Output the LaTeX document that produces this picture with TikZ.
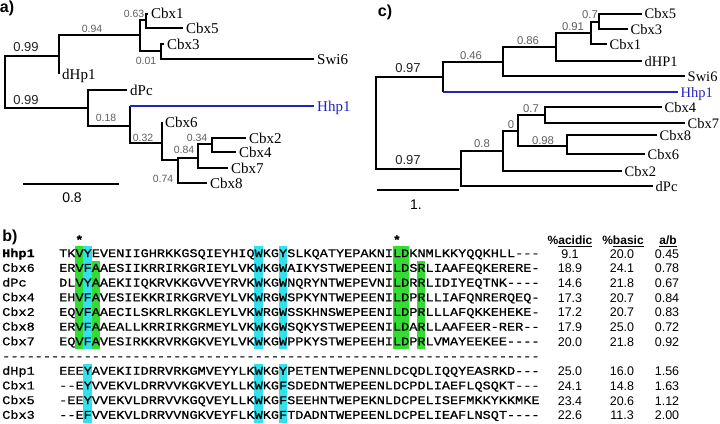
\documentclass[tikz,border=0pt]{standalone}
\usepackage{fontspec}
\setmainfont{Liberation Serif}
\newfontfamily\sansf{Liberation Sans}
\newfontfamily\monof[FakeStretch=1.15,FakeBold=0.8,Ligatures=TeXOff]{Liberation Mono}
\definecolor{hblue}{RGB}{35,35,190}
\definecolor{hgreen}{RGB}{50,220,50}
\definecolor{hcyan}{RGB}{50,225,235}
\definecolor{darkg}{RGB}{35,35,35}
\definecolor{greyg}{RGB}{95,95,95}
\begin{document}
\begin{tikzpicture}[x=1pt,y=-1pt,
  br/.style={line width=1.2pt,line join=miter},
  hbr/.style={line width=1.2pt,draw=hblue},
  leaf/.style={anchor=west,inner xsep=3pt,inner ysep=0pt,font=\fontsize{15}{15}\selectfont,text height=10pt,text depth=0pt},
  leafc/.style={leaf,font=\fontsize{14.5}{14.5}\selectfont,inner xsep=2.5pt},
  supb/.style={inner sep=0pt,font=\sansf\fontsize{13}{13}\selectfont,text=darkg},
  sups/.style={inner sep=0pt,font=\sansf\fontsize{10.5}{10.5}\selectfont,text=greyg},
  supc/.style={inner sep=0pt,font=\sansf\fontsize{11.3}{11.3}\selectfont,text=greyg},
  scl/.style={inner sep=0pt,font=\sansf\fontsize{14}{14}\selectfont},
  panel/.style={inner sep=0pt,font=\sansf\bfseries\fontsize{16}{16}\selectfont},
  seq/.style={anchor=base west,inner sep=0pt,font=\monof\fontsize{11.8}{11.8}\selectfont},
  star/.style={anchor=base,inner sep=0pt,font=\monof\bfseries\fontsize{11.8}{11.8}\selectfont},
  hdr/.style={anchor=base,inner sep=0pt,font=\sansf\bfseries\fontsize{12}{12}\selectfont},
  val/.style={anchor=base,inner sep=0pt,font=\sansf\fontsize{12.5}{12.5}\selectfont},
  hlg/.style={fill=hgreen},
  hlc/.style={fill=hcyan}]
\useasboundingbox (0,0) rectangle (720,423);

% ---------------- panel a ----------------
\node[panel] (pa) at (7,8) {a)};
\coordinate (ra) at (5,82);
\coordinate (a1) at (59,56);
\coordinate (a2) at (140,35);
\coordinate (a3) at (146,20);
\coordinate (a4) at (161,51);
\coordinate (b1) at (88,108);
\coordinate (b2) at (130,126);
\coordinate (b3) at (162,143);
\coordinate (b4) at (178,160);
\coordinate (b5) at (198,158);
\coordinate (b6) at (212,144);
\node[leaf] (aCbx1) at (148,14) {Cbx1};
\node[leaf] (aCbx5) at (183,28) {Cbx5};
\node[leaf] (aCbx3) at (164,44) {Cbx3};
\node[leaf] (aSwi6) at (314,59) {Swi6};
\node[leaf] (adHp1) at (59,74) {dHp1};
\node[leaf] (adPc) at (127,90) {dPc};
\node[leaf,text=hblue] (aHhp1) at (314,106) {Hhp1};
\node[leaf] (aCbx6) at (162,122) {Cbx6};
\node[leaf] (aCbx2) at (246,138) {Cbx2};
\node[leaf] (aCbx4) at (236,152) {Cbx4};
\node[leaf] (aCbx7) at (228,168) {Cbx7};
\node[leaf] (aCbx8) at (207,183) {Cbx8};
\draw[br] (ra) |- (a1);
\draw[br] (ra) |- (b1);
\draw[br] (a1) |- (a2);
\draw[br] (a1) |- (adHp1.west);
\draw[br] (a2) |- (a3);
\draw[br] (a2) |- (a4);
\draw[br] (a3) |- (aCbx1.west);
\draw[br] (a3) |- (aCbx5.west);
\draw[br] (a4) |- (aCbx3.west);
\draw[br] (a4) |- (aSwi6.west);
\draw[br] (b1) |- (adPc.west);
\draw[br] (b1) |- (b2);
\draw[br] (b2) |- (b3);
\draw[br] (b2) -- (b2 |- aHhp1.west);
\draw[hbr] (b2 |- aHhp1.west) -- (aHhp1.west);
\draw[br] (b3) |- (aCbx6.west);
\draw[br] (b3) |- (b4);
\draw[br] (b4) |- (b5);
\draw[br] (b4) |- (aCbx8.west);
\draw[br] (b5) |- (b6);
\draw[br] (b5) |- (aCbx7.west);
\draw[br] (b6) |- (aCbx2.west);
\draw[br] (b6) |- (aCbx4.west);
\node[supb] (sa1) at (26,47) {0.99};
\node[supb] (sa2) at (26,100) {0.99};
\node[sups] (sa3) at (92,29) {0.94};
\node[sups] (sa4) at (134,14) {0.63};
\node[sups] (sa5) at (146,61) {0.01};
\node[sups] (sa6) at (106,118) {0.18};
\node[sups] (sa7) at (143,138) {0.32};
\node[sups] (sa8) at (197,138) {0.34};
\node[sups] (sa9) at (184,150) {0.84};
\node[sups] (sa10) at (163,179) {0.74};
\coordinate (sba1) at (23,184);
\coordinate (sba2) at (119,184);
\draw[br] (sba1) -- (sba2);
\node[scl] (sbal) at (72,198) {0.8};

% ---------------- panel c ----------------
\node[panel] (pc) at (385,12) {c)};
\coordinate (c0) at (376,123);
\coordinate (c1) at (443,77);
\coordinate (c2) at (503,62);
\coordinate (c3) at (556,47);
\coordinate (c4) at (591,33);
\coordinate (c5) at (599,22);
\coordinate (c6) at (461,169);
\coordinate (c7) at (503,151);
\coordinate (c8) at (518,131);
\coordinate (c9) at (545,115);
\coordinate (c10) at (567,146);
\node[leafc] (cCbx5) at (642,14) {Cbx5};
\node[leafc] (cCbx3) at (628,29) {Cbx3};
\node[leafc] (cCbx1) at (607,44) {Cbx1};
\node[leafc] (cdHP1) at (642,61) {dHP1};
\node[leafc] (cSwi6) at (685,76) {Swi6};
\node[leafc,text=hblue] (cHhp1) at (678,92) {Hhp1};
\node[leafc] (cCbx4) at (662,107) {Cbx4};
\node[leafc] (cCbx7) at (685,123) {Cbx7};
\node[leafc] (cCbx8) at (657,135) {Cbx8};
\node[leafc] (cCbx6) at (645,154) {Cbx6};
\node[leafc] (cCbx2) at (622,171) {Cbx2};
\node[leafc] (cdPc) at (653,186) {dPc};
\draw[br] (c0) |- (c1);
\draw[br] (c0) |- (c6);
\draw[br] (c1) |- (c2);
\draw[br] (c1) -- (c1 |- cHhp1.west);
\draw[hbr] (c1 |- cHhp1.west) -- (cHhp1.west);
\draw[br] (c2) |- (c3);
\draw[br] (c2) |- (cSwi6.west);
\draw[br] (c3) |- (c4);
\draw[br] (c3) |- (cdHP1.west);
\draw[br] (c4) |- (c5);
\draw[br] (c4) |- (cCbx1.west);
\draw[br] (c5) |- (cCbx5.west);
\draw[br] (c5) |- (cCbx3.west);
\draw[br] (c6) |- (c7);
\draw[br] (c6) |- (cdPc.west);
\draw[br] (c7) |- (c8);
\draw[br] (c7) |- (cCbx2.west);
\draw[br] (c8) |- (c9);
\draw[br] (c8) |- (c10);
\draw[br] (c9) |- (cCbx4.west);
\draw[br] (c9) |- (cCbx7.west);
\draw[br] (c10) |- (cCbx8.west);
\draw[br] (c10) |- (cCbx6.west);
\node[supb] (sc1) at (408,68) {0.97};
\node[supb] (sc2) at (408,160) {0.97};
\node[supc] (sc3) at (471,56) {0.46};
\node[supc] (sc4) at (528,41) {0.86};
\node[supc] (sc5) at (573,27) {0.91};
\node[supc] (sc6) at (590,15) {0.7};
\node[supc] (sc7) at (482,144) {0.8};
\node[supc] (sc8) at (511,125) {0};
\node[supc] (sc9) at (531,109) {0.7};
\node[supc] (sc10) at (543,141) {0.98};
\coordinate (sbc1) at (377,190);
\coordinate (sbc2) at (459,190);
\draw[br] (sbc1) -- (sbc2);
\node[scl] (sbcl) at (416,205) {1.};

% ---------------- panel b ----------------
\node[panel] (pb) at (10,237) {b)};
% highlights, upper group
\fill[hlg] (75.29,246.15) rectangle (83.43,349.05);
\fill[hlc] (83.43,246.15) rectangle (91.57,349.05);
\fill[hlg] (91.57,260.85) rectangle (99.72,349.05);
\fill[hlc] (254.43,246.15) rectangle (262.58,349.05);
\fill[hlc] (278.86,246.15) rectangle (287.00,349.05);
\fill[hlg] (392.86,246.15) rectangle (409.15,349.05);
\fill[hlg] (417.29,260.85) rectangle (425.43,349.05);
% highlights, lower group
\fill[hlc] (83.43,363.75) rectangle (91.57,422.55);
\fill[hlc] (254.43,363.75) rectangle (262.58,422.55);
\fill[hlc] (278.86,363.75) rectangle (287.00,422.55);
% asterisks
\node[star] (st1) at (79.36,244) {*};
\node[star] (st2) at (396.9,244) {*};
% headers
\node[hdr] (h1) at (570,244.5) {\%\underline{acidic}};
\node[hdr] (h2) at (623,244.5) {\%\underline{basic}};
\node[hdr] (h3) at (668,244.5) {\underline{a/b}};
% rows
\foreach \i/\nm/\sq/\ac/\ba/\ab in {
 0/{\textbf{Hhp1}}/TKVYEVENIIGHRKKGSQIEYHIQWKGYSLKQATYEPAKNILDKNMLKKYQQKHLL---/9.1/20.0/0.45,
 1/Cbx6/ERVFAAESIIKRRIRKGRIEYLVKWKGWAIKYSTWEPEENILDSRLIAAFEQKERERE-/18.9/24.1/0.78,
 2/dPc/DLVYAAEKIIQKRVKKGVVEYRVKWKGWNQRYNTWEPEVNILDRRLIDIYEQTNK----/14.6/21.8/0.67,
 3/Cbx4/EHVFAVESIEKKRIRKGRVEYLVKWRGWSPKYNTWEPEENILDPRLLIAFQNRERQEQ-/17.3/20.7/0.84,
 4/Cbx2/EQVFAAECILSKRLRKGKLEYLVKWRGWSSKHNSWEPEENILDPRLLLAFQKKEHEKE-/17.2/20.7/0.83,
 5/Cbx8/ERVFAAEALLKRRIRKGRMEYLVKWKGWSQKYSTWEPEENILDARLLAAFEER-RER--/17.9/25.0/0.72,
 6/Cbx7/EQVFAVESIRKKRVRKGKVEYLVKWKGWPPKYSTWEPEEHILDPRLVMAYEEKEE----/20.0/21.8/0.92,
 8/dHp1/EEEYAVEKIIDRRVRKGMVEYYLKWKGYPETENTWEPENNLDCQDLIQQYEASRKD---/25.0/16.0/1.56,
 9/Cbx1/--EYVVEKVLDRRVVKGKVEYLLKWKGFSDEDNTWEPEENLDCPDLIAEFLQSQKT---/24.1/14.8/1.63,
 10/Cbx5/-EEYVVEKVLDRRVVKGQVEYLLKWKGFSEEHNTWEPEKNLDCPELISEFMKKYKKMKE/23.4/20.6/1.12,
 11/Cbx3/--EFVVEKVLDRRVVNGKVEYFLKWKGFTDADNTWEPEENLDCPELIEAFLNSQT----/22.6/11.3/2.00}{
  \node[seq] (nm\i) at (2,{253.5+14.7*\i+3.6}) {\nm};
  \node[seq] (sq\i) at (59,{253.5+14.7*\i+3.6}) {\sq};
  \node[val] (ac\i) at (570,{253.5+14.7*\i+4.5}) {\ac};
  \node[val] (ba\i) at (622,{253.5+14.7*\i+4.5}) {\ba};
  \node[val] (ab\i) at (667,{253.5+14.7*\i+4.5}) {\ab};
}
\node[seq] (sep) at (2,{253.5+14.7*7+3.6}) {------------------------------------------------------------------};
\end{tikzpicture}
\end{document}
